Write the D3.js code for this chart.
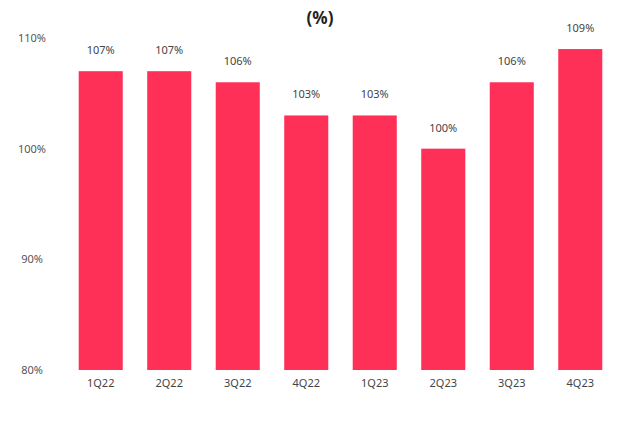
<!DOCTYPE html>
<html>
<head>
<meta charset="utf-8">
<script src="https://cdn.jsdelivr.net/npm/d3@7"></script>
<style>
  body { margin: 0; background: #fff; }
  text { font-family: 'Noto Sans', sans-serif; }
</style>
</head>
<body>
<script>
const quarters = ['1Q22', '2Q22', '3Q22', '4Q22', '1Q23', '2Q23', '3Q23', '4Q23'];
const ratio = [107, 107, 106, 103, 103, 100, 106, 109];
const yTicks = [80, 90, 100, 110];

const W = 640;
const H = 421;
const barColor = '#fe3057';

const svg = d3.select('body').append('svg')
  .attr('width', W)
  .attr('height', H);

const x = d3.scaleBand()
  .domain(quarters)
  .range([65, 616])
  .paddingInner(0.357)
  .paddingOuter(0.2);

const y = d3.scaleLinear().domain([80, 110]).range([370, 38]);

// title
svg.append('text')
  .attr('x', 320)
  .attr('y', 24)
  .attr('text-anchor', 'middle')
  .attr('font-size', 17)
  .attr('font-weight', 'bold')
  .attr('fill', '#222')
  .text('(%)');

// y tick labels
svg.selectAll('.ytick')
  .data(yTicks)
  .join('text')
  .attr('class', 'ytick')
  .attr('x', 32)
  .attr('y', (d) => y(d))
  .attr('dy', '.35em')
  .attr('text-anchor', 'middle')
  .attr('font-size', 11)
  .attr('fill', '#555')
  .text((d) => d + '%');

// bars
svg.selectAll('rect')
  .data(ratio)
  .join('rect')
  .attr('x', (d, i) => x(quarters[i]))
  .attr('y', (d) => y(d))
  .attr('width', x.bandwidth())
  .attr('height', (d) => y(80) - y(d))
  .attr('fill', barColor);

// value labels
svg.selectAll('.val')
  .data(ratio)
  .join('text')
  .attr('class', 'val')
  .attr('x', (d, i) => x(quarters[i]) + x.bandwidth() / 2)
  .attr('y', (d) => y(d) - 17)
  .attr('text-anchor', 'middle')
  .attr('font-size', 11)
  .attr('fill', '#444')
  .text((d) => d + '%');

// category labels
svg.selectAll('.cat')
  .data(quarters)
  .join('text')
  .attr('class', 'cat')
  .attr('x', (d) => x(d) + x.bandwidth() / 2)
  .attr('y', 387)
  .attr('text-anchor', 'middle')
  .attr('font-size', 11)
  .attr('fill', '#444')
  .text((d) => d);
</script>
</body>
</html>
